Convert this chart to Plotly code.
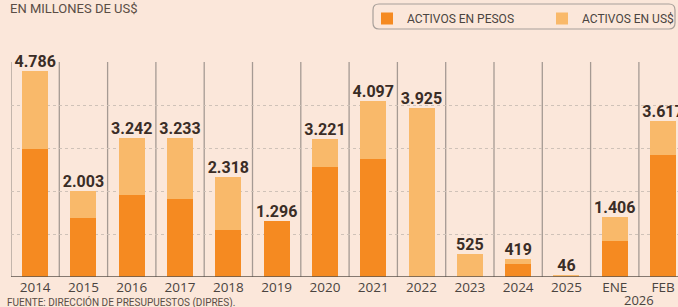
import plotly.graph_objects as go

# ---- data ----
categories = ["2014", "2015", "2016", "2017", "2018", "2019", "2020",
              "2021", "2022", "2023", "2024", "2025", "ENE", "FEB"]
activos_pesos = [2977, 1372, 1907, 1814, 1093, 1296, 2558,
                 2744, 0, 0, 302, 0, 837, 2837]
activos_usd = [1809, 631, 1335, 1419, 1225, 0, 663,
               1353, 3925, 525, 117, 46, 569, 780]
totales = [4786, 2003, 3242, 3233, 2318, 1296, 3221,
           4097, 3925, 525, 419, 46, 1406, 3617]
year_group_label = "2026"

# ---- style ----
W, H = 678, 307
ML, MR, MT, MB = 11, 0, 62, 30
PW, PH = W - ML - MR, H - MT - MB
BG = "#FBE7DA"
DARK = "#F58A21"
LIGHT = "#F9B96A"
TXT = "#3A2D26"
GRID = "#CFC2B8"
SEP = "#A59A93"

x = list(range(len(categories)))
col_w = 48.3
x_max = -0.5 + PW / col_w


def px2paper(px, py):
    return (px - ML) / PW, 1 + (MT - py) / PH


fig = go.Figure()
fig.add_trace(go.Bar(x=x, y=activos_pesos, name="ACTIVOS EN PESOS",
                     marker=dict(color=DARK, line=dict(width=0)), width=0.54))
fig.add_trace(go.Bar(x=x, y=activos_usd, name="ACTIVOS EN US$",
                     marker=dict(color=LIGHT, line=dict(width=0)), width=0.54))
fig.add_trace(go.Scatter(
    x=x, y=totales, mode="text",
    text=[f"{v:,}".replace(",", ".") for v in totales],
    textposition="top center",
    textfont=dict(family="Roboto, sans-serif", size=16, color=TXT, weight="bold"),
    cliponaxis=False, showlegend=False, hoverinfo="skip"))

shapes = []
# column separators
for i in range(len(categories)):
    shapes.append(dict(type="line", xref="x", yref="y", x0=i - 0.5, x1=i - 0.5,
                       y0=0, y1=5000, line=dict(color=SEP, width=1.3), layer="below"))

# rounded legend box
x0, y0 = px2paper(373, 4)
x1, y1 = px2paper(675, 29)
rx, ry = 6 / PW, 6 / PH
path = (f"M{x0+rx},{y0} L{x1-rx},{y0} Q{x1},{y0} {x1},{y0-ry} "
        f"L{x1},{y1+ry} Q{x1},{y1} {x1-rx},{y1} L{x0+rx},{y1} "
        f"Q{x0},{y1} {x0},{y1+ry} L{x0},{y0-ry} Q{x0},{y0} {x0+rx},{y0} Z")
shapes.append(dict(type="path", xref="paper", yref="paper", path=path,
                   line=dict(color="#A8A09A", width=1.2), fillcolor="rgba(0,0,0,0)"))

annotations = [
    dict(text="EN MILLONES DE US$", xref="paper", yref="paper",
         x=px2paper(8, 9)[0], y=px2paper(8, 9)[1], xanchor="left", yanchor="middle",
         showarrow=False, font=dict(family="Roboto, sans-serif", size=13, color="#5A4D45")),
    dict(text=year_group_label, xref="x", yref="paper", x=12.5,
         y=px2paper(0, 300)[1], xanchor="center", yanchor="middle", showarrow=False,
         font=dict(family="Open Sans, sans-serif", size=13, color="#4A4440")),
    dict(text="FUENTE: DIRECCIÓN DE PRESUPUESTOS (DIPRES).", xref="paper", yref="paper",
         x=px2paper(5, 302)[0], y=px2paper(5, 302)[1], xanchor="left", yanchor="middle",
         showarrow=False, font=dict(family="Roboto, sans-serif", size=10, color="#5A4D45")),
]

lx, ly = px2paper(367, 4)
fig.update_layout(
    width=W, height=H, margin=dict(l=ML, r=MR, t=MT, b=MB, autoexpand=False),
    paper_bgcolor=BG, plot_bgcolor=BG,
    barmode="stack",
    showlegend=True,
    legend=dict(orientation="h", x=lx, y=ly, xanchor="left", yanchor="top",
                bgcolor="rgba(0,0,0,0)", borderwidth=0,
                font=dict(family="Roboto, sans-serif", size=12, color="#4A4440"),
                entrywidth=130, entrywidthmode="pixels", traceorder="normal"),
    xaxis=dict(range=[-0.5, x_max], tickvals=x, ticktext=categories,
               showgrid=False, zeroline=False, showline=False, ticks="",
               tickfont=dict(family="Open Sans, sans-serif", size=13.5, color="#4A4440"),
               fixedrange=True),
    yaxis=dict(range=[0, 5000], dtick=1000, showticklabels=False, ticks="",
               showgrid=True, gridcolor=GRID, griddash="dot", gridwidth=1,
               zeroline=False, showline=False, fixedrange=True),
    shapes=shapes + [dict(type="line", xref="paper", yref="y", x0=0, x1=1, y0=0, y1=0,
                          line=dict(color="#5E544D", width=1.5))],
    annotations=annotations,
    hovermode=False,
)

fig.write_html(
    "out.html",
    config={"displayModeBar": False},
    post_script=(f"document.body.style.margin='0';"
                 f"document.body.style.background='{BG}';"
                 "document.body.style.overflow='hidden';"),
)
